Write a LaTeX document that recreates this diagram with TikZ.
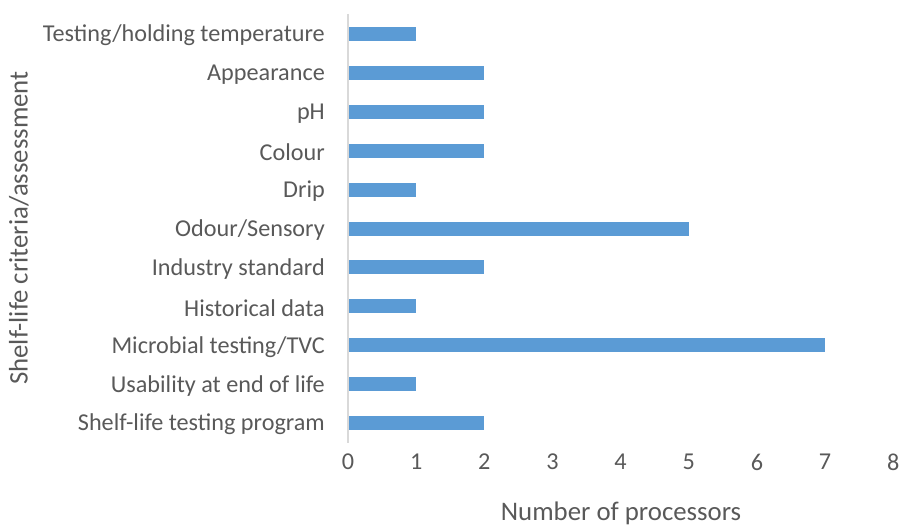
\documentclass[tikz,border=0pt]{standalone}
\usepackage{fontspec}
\setmainfont{Carlito}
\definecolor{bar}{HTML}{5B9BD5}
\definecolor{txt}{HTML}{595959}
\definecolor{axis}{HTML}{D9D9D9}
\begin{document}
\begin{tikzpicture}[x=1pt,y=-1pt,
  lab/.style={anchor=east,text=txt,font=\fontsize{24.2}{28}\selectfont,inner sep=0pt},
  tick/.style={anchor=center,text=txt,font=\fontsize{24.2}{28}\selectfont,inner sep=0pt},
  ttl/.style={anchor=center,text=txt,font=\fontsize{26.8}{30}\selectfont,inner sep=0pt}]
\useasboundingbox (0,0) rectangle (900,527);
\def\u{68.15}
\foreach \v/\t [count=\i from 0] in {1/Testing\slash holding temperature,2/Appearance,2/pH,2/Colour,1/Drip,5/Odour\slash Sensory,2/Industry standard,1/Historical data,7/Microbial testing\slash TVC,1/Usability at end of life,2/Shelf-life testing program}{
  \pgfmathsetmacro\yc{34+38.9*\i}
  \fill[bar] (349,\yc-7) rectangle (348+\v*\u,\yc+7);
  \node[lab] (l\i) at (325,\yc+1.5) {\t};
}
\draw[axis,line width=2pt] (348,14) coordinate (top) -- (348,442.5) coordinate (bot);
\foreach \k in {0,...,8}{
  \node[tick] (t\k) at (348+\k*\u,462) {\k};
}
\node[ttl] (xt) at (621,513) {Number of processors};
\node[ttl,rotate=90] (yt) at (19,228) {Shelf-life criteria/assessment};
\end{tikzpicture}
\end{document}
